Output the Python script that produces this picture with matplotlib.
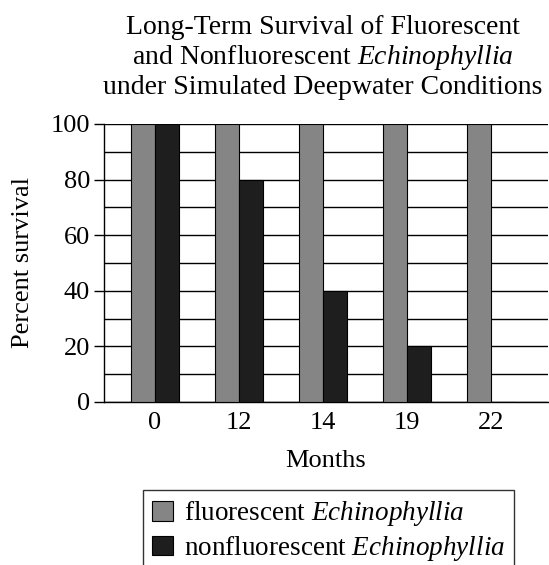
import matplotlib.pyplot as plt
from matplotlib.ticker import MultipleLocator
import numpy as np

months = ["0", "12", "14", "19", "22"]
fluorescent = [100, 100, 100, 100, 100]
nonfluorescent = [100, 80, 40, 20, 0]

plt.rcParams['font.family'] = ['Liberation Serif', 'DejaVu Serif']
plt.rcParams['mathtext.fontset'] = 'custom'
plt.rcParams['mathtext.rm'] = 'Liberation Serif'
plt.rcParams['mathtext.it'] = 'Liberation Serif:italic'

W, H = 549, 565
fig = plt.figure(figsize=(W / 100, H / 100), dpi=100)
ax = fig.add_axes([104 / W, (H - 402) / H, (548 - 104) / W, (402 - 124) / H])

x = np.arange(len(months))
bw = 0.29
ax.bar(x - bw / 2, fluorescent, bw, color='#858585', edgecolor='black', linewidth=0.8,
       zorder=3, label='fluorescent $\\it{Echinophyllia}$')
ax.bar(x + bw / 2, nonfluorescent, bw, color='#1e1e1e', edgecolor='black', linewidth=0.8,
       zorder=3, label='nonfluorescent $\\it{Echinophyllia}$')

ax.set_xlim(-0.607, 4.68)
ax.set_ylim(0, 100)
ax.set_xticks(x)
ax.set_xticklabels(months)
ax.yaxis.set_major_locator(MultipleLocator(20))
ax.yaxis.set_minor_locator(MultipleLocator(10))
ax.grid(axis='y', which='both', color='black', linewidth=1, zorder=0)
ax.set_axisbelow(True)
ax.tick_params(axis='x', length=0, labelsize=19, pad=7)
ax.tick_params(axis='y', which='major', length=7, width=1, labelsize=19, pad=3)
ax.tick_params(axis='y', which='minor', length=0)
for s in ['top', 'right']:
    ax.spines[s].set_visible(False)
ax.spines['left'].set_linewidth(1)
ax.spines['bottom'].set_linewidth(1)

ax.set_xlabel("Months", fontsize=19, labelpad=12)
ax.set_ylabel("Percent survival", fontsize=19, labelpad=12)

fig.text(323 / W, 1 - 57 / H,
         "Long-Term Survival of Fluorescent\n"
         "and Nonfluorescent $\\it{Echinophyllia}$\n"
         "under Simulated Deepwater Conditions",
         ha='center', va='center', fontsize=20, linespacing=1.15)

leg = fig.legend(loc='upper left', bbox_to_anchor=(143 / W, 1 - 490 / H),
                 fontsize=19.5, frameon=True, fancybox=False, edgecolor='black',
                 handlelength=0.75, handleheight=0.75, handletextpad=0.4,
                 borderpad=0.35, labelspacing=0.2, borderaxespad=0)
leg.get_frame().set_linewidth(1)

fig.savefig("out.png", dpi=100)
